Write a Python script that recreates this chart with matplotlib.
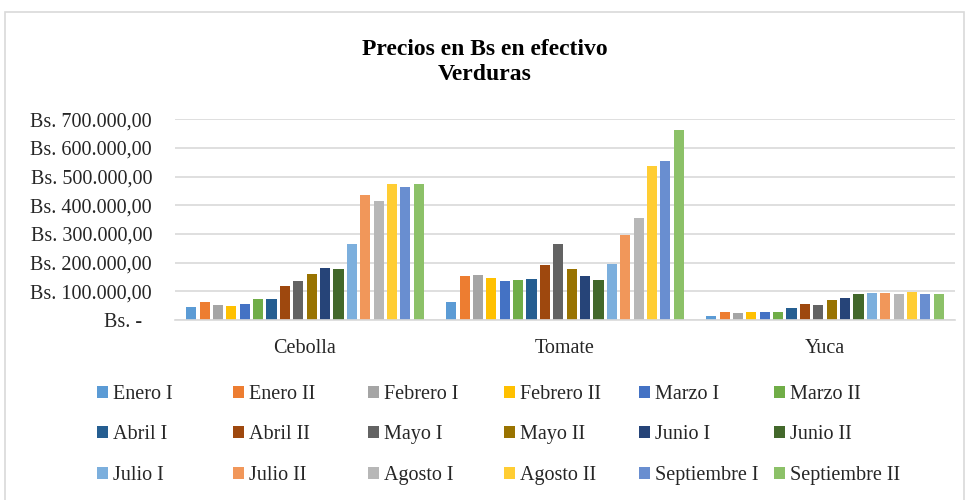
import matplotlib
matplotlib.use("Agg")
import matplotlib.pyplot as plt
from matplotlib.patches import Rectangle, Patch
from matplotlib.ticker import FuncFormatter, MultipleLocator
import numpy as np

categories = ["Cebolla", "Tomate", "Yuca"]
series_names = ["Enero I", "Enero II", "Febrero I", "Febrero II", "Marzo I", "Marzo II",
                "Abril I", "Abril II", "Mayo I", "Mayo II", "Junio I", "Junio II",
                "Julio I", "Julio II", "Agosto I", "Agosto II", "Septiembre I", "Septiembre II"]
cebolla = [46000, 64000, 52000, 48000, 55000, 72000, 74000, 117000, 135000, 159000,
           181000, 177000, 266000, 437000, 416000, 474000, 463000, 474000]
tomate = [62000, 153000, 156000, 148000, 135000, 141000, 143000, 192000, 265000, 178000,
          153000, 138000, 194000, 296000, 355000, 537000, 553000, 664000]
yuca = [15000, 28000, 24000, 28000, 28000, 29000, 42000, 55000, 51000, 69000,
        77000, 92000, 93000, 95000, 92000, 99000, 92000, 92000]
colors = ["#5B9BD5", "#ED7D31", "#A5A5A5", "#FFC000", "#4472C4", "#70AD47",
          "#255E91", "#9E480E", "#636363", "#997300", "#264478", "#43682B",
          "#7CAFDD", "#F1975A", "#B7B7B7", "#FFCD33", "#698ED0", "#8CC168"]

plt.rcParams['font.family'] = ['Liberation Serif', 'DejaVu Serif']
text_color = "#262626"
fs = 14.5

fig = plt.figure(figsize=(9.69, 5.0), dpi=100)
fig.patches.append(Rectangle((5 / 969, -0.01), 959 / 969, 1 - 12 / 500 + 0.01,
                             transform=fig.transFigure, fill=False,
                             edgecolor="#D9D9D9", linewidth=1.2))

ax = fig.add_axes([175 / 969, 1 - 320 / 500, 780 / 969, (320 - 119.3) / 500])

values = np.array([cebolla, tomate, yuca]).T  # shape (18, 3)
x = np.arange(len(categories))
step = 0.0515
width = 0.039
n = len(series_names)
for i in range(n):
    ax.bar(x + (i - (n - 1) / 2) * step, values[i], width=width,
           color=colors[i], label=series_names[i], zorder=3)

ax.set_xlim(-0.5, len(categories) - 0.5)
ax.set_ylim(0, 700000)
ax.yaxis.set_major_locator(MultipleLocator(100000))


def fmt(v, pos):
    if v == 0:
        return "Bs. -  "
    s = f"{v:,.2f}".replace(",", "X").replace(".", ",").replace("X", ".")
    return "Bs. " + s


ax.yaxis.set_major_formatter(FuncFormatter(fmt))
ax.set_xticks(x)
ax.set_xticklabels(categories)
ax.tick_params(axis="both", length=0, labelsize=fs, colors=text_color)
ax.tick_params(axis="y", pad=16.5)
ax.tick_params(axis="x", pad=14)
ax.grid(axis="y", color="#D9D9D9", linewidth=1.2, zorder=0)
for side in ["top", "right", "left"]:
    ax.spines[side].set_visible(False)
ax.spines["bottom"].set_color("#D9D9D9")
ax.spines["bottom"].set_linewidth(1.2)
ax.spines["bottom"].set_zorder(4)

fig.text(0.5, 1 - 62 / 500, "Precios en Bs en efectivo\nVerduras", ha="center", va="center",
         fontsize=17, fontweight="bold", color="#000000", linespacing=1.28)

# legend: six uniform columns, three rows
col_x = [97, 233, 368, 504, 639, 774]
for c in range(6):
    idx = [c, c + 6, c + 12]
    handles = [Patch(facecolor=colors[k], edgecolor="none") for k in idx]
    labels = [series_names[k] for k in idx]
    leg = fig.legend(handles, labels, loc="upper left",
                     bbox_to_anchor=(col_x[c] / 969, 1 - 385 / 500),
                     frameon=False, fontsize=fs, ncol=1, borderpad=0,
                     borderaxespad=0, handlelength=0.55, handleheight=0.55,
                     handletextpad=0.22, labelspacing=1.06, labelcolor=text_color)

fig.savefig("out.png", dpi=100, facecolor="white")
